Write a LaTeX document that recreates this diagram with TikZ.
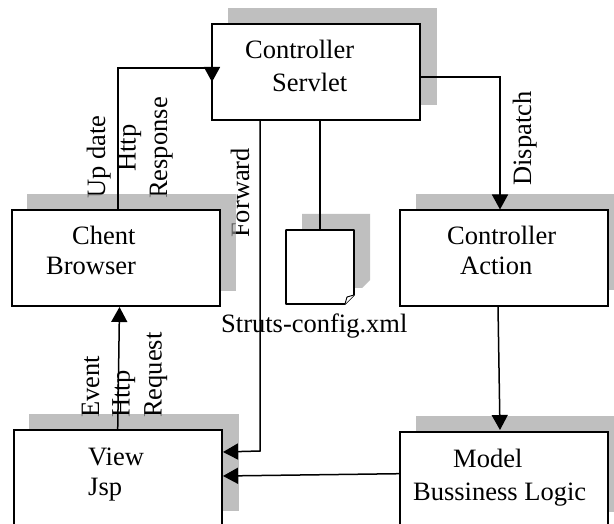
\documentclass[tikz,border=0pt]{standalone}
\usepackage{fontspec}
\setmainfont{Liberation Serif}
\usetikzlibrary{arrows.meta}
\definecolor{shade}{RGB}{156,156,156}
\tikzset{
  x=1pt,y=-1pt,
  boxnode/.style={draw=black,line width=1.6pt,fill=white,anchor=north west,inner sep=0pt,outer sep=0pt},
  shadowbox/.style={fill=shade,fill opacity=.64,draw=none},
  conn/.style={draw=black,line width=1.5pt},
  arr/.style={conn,-{Triangle[length=15pt,width=16pt]}},
  lbl/.style={font=\fontsize{26.5}{30}\selectfont,inner sep=0pt,text=black},
  vlbl/.style={lbl,anchor=base west,rotate=90},
}
\begin{document}
\begin{tikzpicture}
\useasboundingbox (0,0) rectangle (614,524);
\fill[white] (0,0) rectangle (614,524);
% vertical labels lie beneath the translucent shadows
\node[vlbl] (u1) at (105,199) {Up date};
\node[vlbl] (u2) at (135.5,172) {Http};
\node[vlbl] (u3) at (167,199) {Response};
\node[vlbl] (u4) at (249,238) {Forward};
\node[vlbl] (u5) at (531,186) {Dispatch};
\node[vlbl] (u6) at (99,418) {Event};
\node[vlbl] (u7) at (129.5,418) {Http};
\node[vlbl] (u8) at (161.5,418) {Request};
% shadows
\fill[shadowbox] (228,8) rectangle (437,105);
\fill[shadowbox] (27,194) rectangle (236,291);
\fill[shadowbox] (416,194) rectangle (614,290);
\fill[shadowbox] (29,414) rectangle (239,511);
\fill[shadowbox] (416,416) rectangle (614,512);
\fill[shadowbox] (302,214) -- (370,214) -- (370,280) -- (362,288) -- (302,288) -- cycle;
% boxes
\node[boxnode,minimum width=208pt,minimum height=96pt] (servlet) at (212,24) {};
\node[boxnode,minimum width=208pt,minimum height=96pt] (client) at (12,210) {};
\node[boxnode,minimum width=208pt,minimum height=96pt] (action) at (400,210) {};
\node[boxnode,minimum width=208pt,minimum height=110pt] (view) at (14,430) {};
\node[boxnode,minimum width=208pt,minimum height=110pt] (model) at (400,432) {};
\coordinate (docTL) at (286,230);
\coordinate (docTR) at (354,230);
\coordinate (docA) at (354,295);
\coordinate (docB) at (345,304);
\coordinate (docBL) at (286,304);
\draw[line width=1.6pt,fill=white,line join=round] (docTL) -- (docTR) -- (docA) -- (docB) -- (docBL) -- cycle;
\draw[line width=.9pt,fill=white] (docA) -- (347,297) -- (docB);
% connectors
\coordinate (j1) at (118,68);
\coordinate (j1b) at (118,210);
\draw[arr] (j1b) -- (j1) -- (212,68) -- (212,82);
\coordinate (sd) at (420,77);
\coordinate (d2) at (500,77);
\coordinate (d3) at (500,209.5);
\draw[arr] (sd) -- (d2) -- (d3);
\coordinate (a1) at (498,306);
\coordinate (a2) at (500,430);
\draw[arr] (a1) -- (a2);
\coordinate (m1) at (400,473.7);
\coordinate (v1) at (223,476);
\draw[arr] (m1) -- (v1);
\coordinate (f1) at (260,120);
\coordinate (f2) at (260,451);
\coordinate (f3) at (223,452);
\draw[arr] (f1) -- (f2) -- (f3);
\coordinate (c1) at (320,120);
\coordinate (c2) at (320,230);
\draw[conn] (c1) -- (c2);
\coordinate (v2) at (117.7,430);
\coordinate (c3) at (119.5,307);
\draw[arr] (v2) -- (c3);
% texts
\node[lbl,anchor=base west] (t1) at (245,59) {Controller};
\node[lbl,anchor=base west] (t2) at (272,92) {Servlet};
\node[lbl,anchor=base west] (t3) at (72,245) {Chent};
\node[lbl,anchor=base west] (t4) at (46,275) {Browser};
\node[lbl,anchor=base west] (t5) at (447,245) {Controller};
\node[lbl,anchor=base west] (t6) at (460,275) {Action};
\node[lbl,anchor=base west] (t7) at (88,465) {View};
\node[lbl,anchor=base west] (t8) at (88,495) {Jsp};
\node[lbl,anchor=base west] (t9) at (453,467) {Model};
\node[lbl,anchor=base west] (t10) at (413,500) {Bussiness Logic};
\node[lbl,anchor=base west] (t11) at (221,333) {Struts-config.xml};
\end{tikzpicture}
\end{document}
